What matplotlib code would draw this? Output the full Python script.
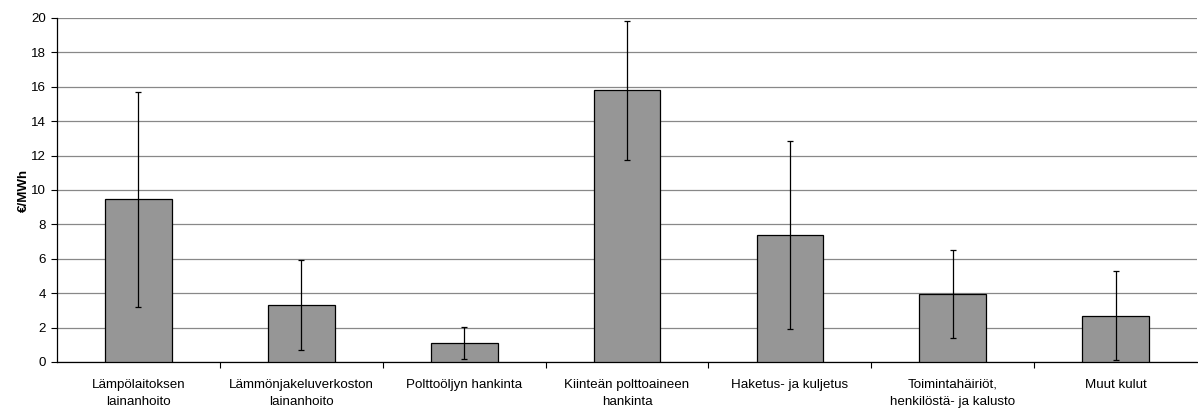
import matplotlib

matplotlib.use("Agg")

import matplotlib.pyplot as plt
import numpy as np

# Cost components, EUR/MWh, with error bar half-widths
categories = [
    "Lämpölaitoksen\nlainanhoito",
    "Lämmönjakeluverkoston\nlainanhoito",
    "Polttoöljyn hankinta",
    "Kiinteän polttoaineen\nhankinta",
    "Haketus- ja kuljetus",
    "Toimintahäiriöt,\nhenkilöstä- ja kalusto",
    "Muut kulut",
]
values = [9.45, 3.3, 1.1, 15.8, 7.4, 3.95, 2.7]
errors = [6.25, 2.62, 0.95, 4.05, 5.47, 2.58, 2.58]
y_ticks = list(range(0, 21, 2))

plt.rcParams["font.family"] = ["Liberation Sans", "DejaVu Sans"]

fig = plt.figure(figsize=(11.98, 4.12), dpi=100)
ax = fig.add_axes([0.0476, 0.1214, 0.9516, 0.835])

x = np.arange(len(categories))
ax.bar(x, values, width=0.41, color="#969696", edgecolor="black", linewidth=0.9, zorder=3)
ax.errorbar(x, values, yerr=errors, fmt="none", ecolor="black", elinewidth=0.9,
            capsize=2.5, capthick=0.9, zorder=4)

ax.set_xlim(-0.5, len(categories) - 0.5)
ax.set_ylim(0, 20)
ax.set_yticks(y_ticks)
ax.yaxis.grid(True, color="#888888", linewidth=0.9, zorder=0)
ax.set_axisbelow(True)

# category labels centred, tick marks at boundaries
ax.set_xticks(x)
ax.set_xticklabels(categories, fontsize=9.6, linespacing=1.6)
ax.tick_params(axis="x", length=0, pad=12)
ax.set_xticks(np.arange(len(categories) - 1) + 0.5, minor=True)
ax.tick_params(axis="x", which="minor", length=4, direction="out", width=0.8)
ax.tick_params(axis="y", labelsize=9.6, length=4, width=0.8, direction="out", pad=4)

ax.set_ylabel("€/MWh", fontsize=9.6, fontweight="bold", labelpad=1)

for side in ["top", "right"]:
    ax.spines[side].set_visible(False)
for side in ["left", "bottom"]:
    ax.spines[side].set_linewidth(0.9)

fig.savefig("out.png", dpi=100)
